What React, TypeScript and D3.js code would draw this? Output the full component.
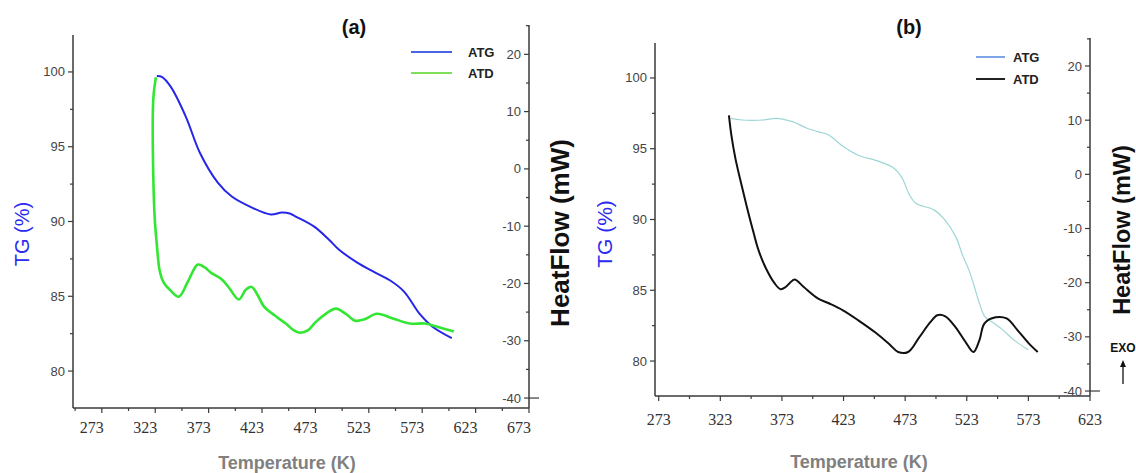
import React from 'react';
import * as d3 from 'd3';

// ---------- data ----------
const tgTicks = [80, 85, 90, 95, 100];
const hfTicks = [-40, -30, -20, -10, 0, 10, 20];
const tempTicksA = [273, 323, 373, 423, 473, 523, 573, 623, 673];
const tempTicksB = [273, 323, 373, 423, 473, 523, 573, 623];
const seriesNames = ['ATG', 'ATD'];
const panelTitles = ['(a)', '(b)'];

// panel (a) ATG : temperature (K) / TG (%)
const atgA_T = [324.5, 329.2, 337.6, 351.7, 364.8, 381.6, 394.7, 411.6, 431.2, 441.5, 449.0, 454.6, 471.5, 485.5, 494.9, 511.8, 528.6, 542.7, 555.8, 570.8, 582.0, 600.7];
const atgA_TG = [99.73, 99.67, 99.0, 97.0, 94.6, 92.6, 91.67, 91.0, 90.47, 90.6, 90.53, 90.33, 89.67, 88.8, 88.13, 87.27, 86.6, 86.07, 85.33, 83.8, 83.0, 82.2];

// panel (a) ATD : temperature (K) / heat flow (mW)
const atdA_T = [323.6, 321.5, 320.8, 321.2, 322.6, 324.5, 327.3, 331.1, 336.7, 345.1, 353.5, 362.9, 369.4, 375.1, 385.4, 391.9, 401.3, 407.8, 413.4, 419.1, 424.7, 435.0, 445.3, 452.8, 458.4, 465.9, 473.4, 482.7, 492.1, 501.5, 509.9, 518.3, 530.5, 545.5, 561.4, 575.4, 589.5, 602.6];
const atdA_HF = [16.0, 13.0, 10.3, -1.4, -8.9, -13.2, -17.9, -19.9, -21.1, -22.3, -19.7, -16.7, -17.2, -18.1, -19.3, -20.7, -22.8, -21.1, -20.6, -22.1, -24.0, -25.6, -27.0, -28.2, -28.6, -28.2, -26.7, -25.3, -24.4, -25.3, -26.5, -26.3, -25.3, -26.1, -27.0, -27.0, -27.7, -28.4];

// panel (b) ATG
const atgB_T = [331.6, 340.4, 358.1, 368.3, 381.5, 393.4, 402.9, 411.0, 422.8, 434.5, 452.2, 464.0, 470.5, 475.8, 481.6, 496.3, 505.2, 514.0, 519.5, 525.7, 533.2, 537.6, 544.9, 552.2, 561.0, 572.9];
const atgB_TG = [97.15, 97.03, 97.03, 97.15, 96.91, 96.45, 96.19, 95.97, 95.15, 94.56, 94.09, 93.62, 92.94, 91.86, 91.15, 90.68, 89.97, 88.79, 87.5, 86.21, 84.09, 83.14, 82.68, 82.2, 81.5, 80.79];

// panel (b) ATD
const atdB_T = [330.0, 332.0, 335.2, 339.3, 344.2, 349.9, 354.0, 359.7, 367.0, 371.9, 376.0, 379.2, 383.3, 390.7, 402.1, 411.0, 422.5, 434.7, 449.4, 460.8, 467.3, 475.4, 484.4, 493.4, 499.1, 505.6, 513.8, 522.7, 528.4, 533.3, 537.4, 546.4, 555.3, 564.3, 573.3, 580.6];
const atdB_HF = [10.9, 7.2, 3.0, -1.1, -5.7, -10.7, -14.0, -17.2, -20.1, -21.2, -20.8, -20.1, -19.4, -20.8, -22.9, -23.8, -25.1, -26.9, -29.3, -31.5, -32.8, -32.8, -30.1, -27.3, -26.0, -26.2, -28.2, -31.2, -32.8, -30.6, -27.5, -26.4, -26.6, -28.8, -31.2, -32.8];

// ---------- layout ----------
const SANS = '"Liberation Sans", Arial, sans-serif';
const SERIF = '"Liberation Serif", "Times New Roman", serif';
const AXIS = '#3a3a3a';

type PanelCfg = {
  left: number; right: number; bottom: number; leftTop: number; rightTop: number;
  xDomain: [number, number]; tgDomain: [number, number]; hfDomain: [number, number];
  xTicks: number[]; xLabelDx: number; xLabelY: number;
  title: string; titleX: number; titleY: number;
  tgLabelX: number; tgLabelY: number; tgFont: number;
  hfLabelX: number; hfLabelY: number; hfFont: number;
  tempX: number; tempY: number;
  legX1: number; legX2: number; legTextX: number; legY: number[];
  atgColor: string; atgLegColor: string; atgWidth: number;
  atdColor: string; atdLegColor: string; atdWidth: number;
  atg: [number[], number[]]; atd: [number[], number[]];
  exo: boolean;
};

function Panel({ c }: { c: PanelCfg }) {
  const x = d3.scaleLinear().domain(c.xDomain).range([c.left, c.right]);
  const yL = d3.scaleLinear().domain(c.tgDomain).range([c.bottom, c.leftTop]);
  const yR = d3.scaleLinear().domain(c.hfDomain).range([c.bottom, c.rightTop]);
  const atgPts: [number, number][] = c.atg[0].map((t, i) => [t, c.atg[1][i]]);
  const atdPts: [number, number][] = c.atd[0].map((t, i) => [t, c.atd[1][i]]);
  const lineL = d3.line<[number, number]>().x(d => x(d[0])).y(d => yL(d[1])).curve(d3.curveCatmullRom.alpha(0.5));
  const lineR = d3.line<[number, number]>().x(d => x(d[0])).y(d => yR(d[1])).curve(d3.curveCatmullRom.alpha(0.5));

  const tgMinor = tgTicks.map(v => v - 2.5).concat([tgTicks[tgTicks.length - 1] + 2.5]).filter(v => v >= c.tgDomain[0] - 0.01 && v <= c.tgDomain[1] + 0.01);
  const hfMinor = hfTicks.map(v => v + 5).filter(v => v <= c.hfDomain[1] + 0.01);
  const xMinor = c.xTicks.map(v => v - 25).filter(v => v >= c.xDomain[0] - 3);

  return (
    <g>
      {/* axes lines */}
      <line x1={c.left} x2={c.left} y1={c.leftTop} y2={c.bottom} stroke={AXIS} strokeWidth={1.5} />
      <line x1={c.right} x2={c.right} y1={c.rightTop} y2={c.bottom} stroke={AXIS} strokeWidth={1.5} />
      <line x1={c.left} x2={c.right} y1={c.bottom} y2={c.bottom} stroke={AXIS} strokeWidth={1.5} />

      {/* left axis */}
      {tgTicks.map(v => (
        <g key={'tg' + v}>
          <line x1={c.left - 5} x2={c.left} y1={yL(v)} y2={yL(v)} stroke={AXIS} strokeWidth={1.2} />
          <text x={c.left - 8} y={yL(v) + 4.5} textAnchor="end" fontFamily={SANS} fontSize={13} fill="#444">{v}</text>
        </g>
      ))}
      {tgMinor.map(v => (
        <line key={'tgm' + v} x1={c.left - 3} x2={c.left} y1={yL(v)} y2={yL(v)} stroke={AXIS} strokeWidth={1.2} />
      ))}

      {/* right axis (ticks inward) */}
      {hfTicks.map((v, i) => (
        <g key={'hf' + v}>
          <line x1={c.right - 5} x2={i === 0 ? c.right + 10 : c.right} y1={yR(v)} y2={yR(v)} stroke={AXIS} strokeWidth={1.2} />
          <text x={c.right - 8} y={yR(v) + 4.5} textAnchor="end" fontFamily={SANS} fontSize={13} fill="#444">{v}</text>
        </g>
      ))}
      {hfMinor.map(v => (
        <line key={'hfm' + v} x1={c.right - 3} x2={c.right} y1={yR(v)} y2={yR(v)} stroke={AXIS} strokeWidth={1.2} />
      ))}

      {/* bottom axis */}
      {c.xTicks.map(v => (
        <g key={'x' + v}>
          <line x1={x(v)} x2={x(v)} y1={c.bottom} y2={c.bottom + 5} stroke={AXIS} strokeWidth={1.2} />
          <text x={x(v) + c.xLabelDx} y={c.xLabelY} textAnchor="middle" fontFamily={SERIF} fontSize={16} fill="#333">{v}</text>
        </g>
      ))}
      {xMinor.map(v => (
        <line key={'xm' + v} x1={x(v)} x2={x(v)} y1={c.bottom} y2={c.bottom + 3} stroke={AXIS} strokeWidth={1.2} />
      ))}

      {/* curves */}
      <path d={lineL(atgPts) || ''} fill="none" stroke={c.atgColor} strokeWidth={c.atgWidth} strokeLinejoin="round" />
      <path d={lineR(atdPts) || ''} fill="none" stroke={c.atdColor} strokeWidth={c.atdWidth} strokeLinejoin="round" />

      {/* legend */}
      {seriesNames.map((n, i) => (
        <g key={'leg' + n}>
          <line x1={c.legX1} x2={c.legX2} y1={c.legY[i]} y2={c.legY[i]} stroke={i === 0 ? c.atgLegColor : c.atdLegColor} strokeWidth={2} />
          <text x={c.legTextX} y={c.legY[i] + 5} fontFamily={SANS} fontWeight="bold" fontSize={13} fill="#222">{n}</text>
        </g>
      ))}

      {/* titles and axis labels */}
      <text x={c.titleX} y={c.titleY} textAnchor="middle" fontFamily={SANS} fontWeight="bold" fontSize={20} fill="#111">{c.title}</text>
      <text transform={`translate(${c.tgLabelX},${c.tgLabelY}) rotate(-90)`} textAnchor="middle" fontFamily={SANS} fontSize={c.tgFont} fill="#2a2af0">TG (%)</text>
      <text transform={`translate(${c.hfLabelX},${c.hfLabelY}) rotate(-90)`} textAnchor="middle" fontFamily={SANS} fontWeight="bold" fontSize={c.hfFont} fill="#111">HeatFlow (mW)</text>
      <text x={c.tempX} y={c.tempY} textAnchor="middle" fontFamily={SANS} fontWeight="bold" fontSize={18} fill="#808080">Temperature (K)</text>
      {c.exo && (
        <g>
          <text x={1123} y={352} textAnchor="middle" fontFamily={SANS} fontWeight="bold" fontSize={12} fill="#111">EXO</text>
          <line x1={1123} x2={1123} y1={384} y2={364} stroke="#111" strokeWidth={1.3} />
          <path d="M1120,367 L1123,360 L1126,367 Z" fill="#111" />
        </g>
      )}
    </g>
  );
}

const panelA: PanelCfg = {
  left: 73, right: 529, bottom: 408, leftTop: 35, rightTop: 25,
  xDomain: [246, 673], tgDomain: [77.53, 102.47], hfDomain: [-41.74, 25.12],
  xTicks: tempTicksA, xLabelDx: -10, xLabelY: 433,
  title: panelTitles[0], titleX: 354, titleY: 34,
  tgLabelX: 29, tgLabelY: 234, tgFont: 20,
  hfLabelX: 569, hfLabelY: 233, hfFont: 26,
  tempX: 287, tempY: 469,
  legX1: 411, legX2: 452, legTextX: 468, legY: [52, 73],
  atgColor: '#2626e6', atgLegColor: '#4a63e0', atgWidth: 2,
  atdColor: '#33e633', atdLegColor: '#7ee05a', atdWidth: 2.6,
  atg: [atgA_T, atgA_TG], atd: [atdA_T, atdA_HF], exo: false,
};

const panelB: PanelCfg = {
  left: 655, right: 1090, bottom: 396, leftTop: 43, rightTop: 38,
  xDomain: [270, 623], tgDomain: [77.53, 102.47], hfDomain: [-40.92, 25.17],
  xTicks: tempTicksB, xLabelDx: 0, xLabelY: 425,
  title: panelTitles[1], titleX: 909, titleY: 34,
  tgLabelX: 612, tgLabelY: 234, tgFont: 21,
  hfLabelX: 1130, hfLabelY: 230, hfFont: 23.5,
  tempX: 859, tempY: 468,
  legX1: 976, legX2: 1005, legTextX: 1013, legY: [57, 79],
  atgColor: '#9ed6d6', atgLegColor: '#7ea6e6', atgWidth: 1.2,
  atdColor: '#111111', atdLegColor: '#222222', atdWidth: 2,
  atg: [atgB_T, atgB_TG], atd: [atdB_T, atdB_HF], exo: true,
};

export default function App() {
  return (
    <svg width={1136} height={473} style={{ position: 'absolute', left: 0, top: 0, background: '#fff' }}>
      <rect x={0} y={0} width={1136} height={473} fill="#fff" />
      <Panel c={panelA} />
      <Panel c={panelB} />
    </svg>
  );
}
